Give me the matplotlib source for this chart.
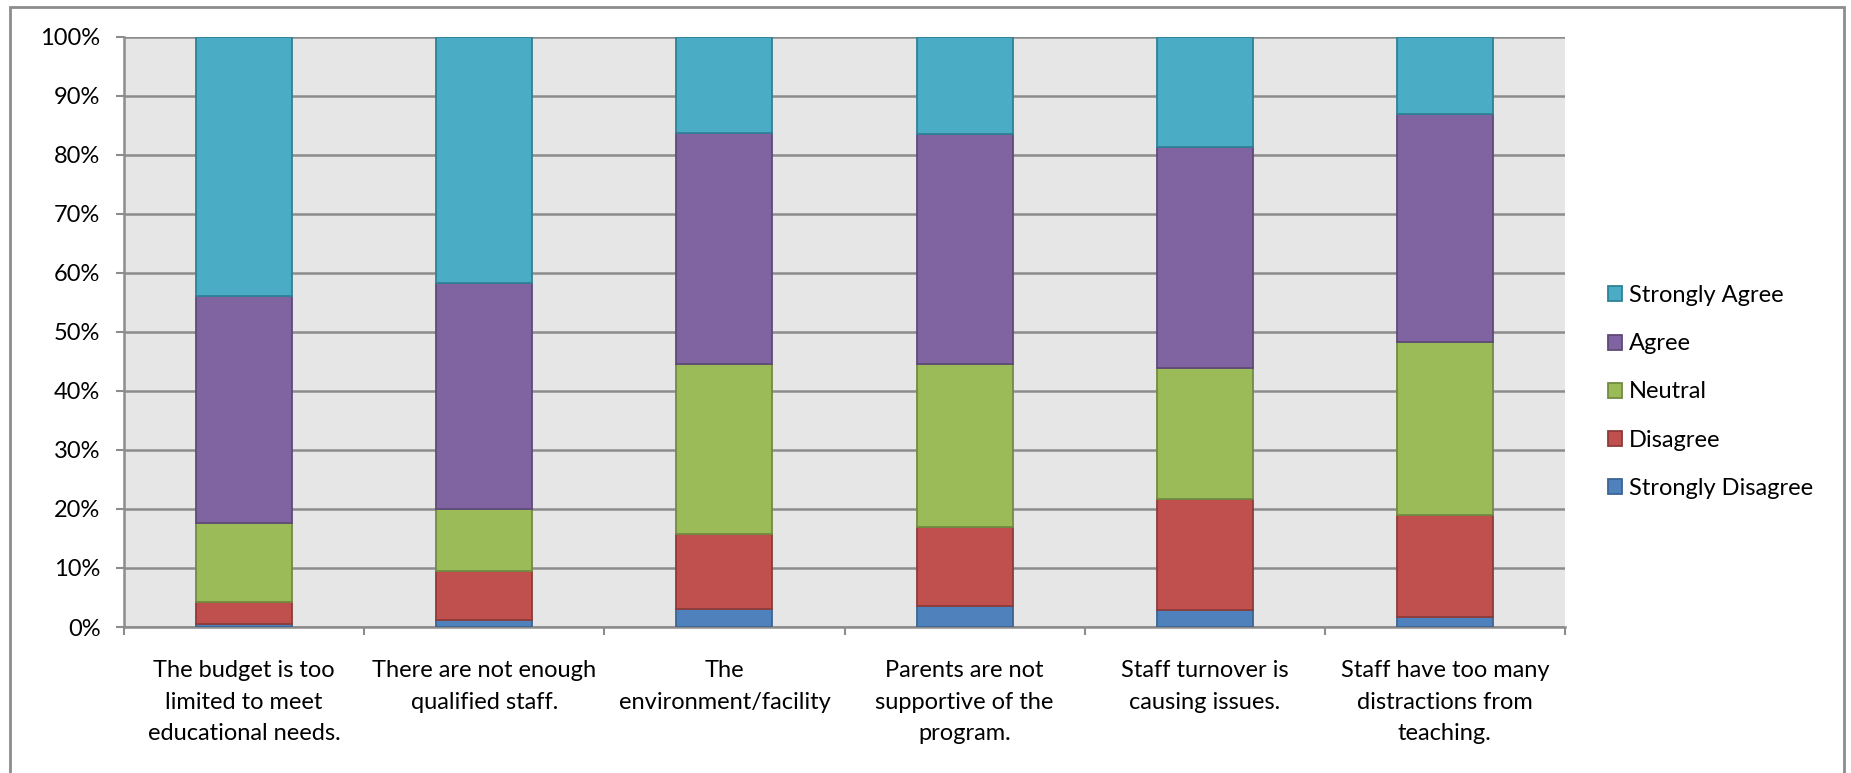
import matplotlib.pyplot as plt
import matplotlib.patches as mpatches
import numpy as np
from matplotlib.ticker import PercentFormatter

plt.rcParams['font.family'] = ['Lato', 'DejaVu Sans']

# Chart data (percent of responses)
categories = [
    "The budget is too\nlimited to meet\neducational needs.",
    "There are not enough\nqualified staff.",
    "The\nenvironment/facility",
    "Parents are not\nsupportive of the\nprogram.",
    "Staff turnover is\ncausing issues.",
    "Staff have too many\ndistractions from\nteaching.",
]
strongly_disagree = [0.5, 1.2, 3.0, 3.5, 2.8, 1.7]
disagree = [3.7, 8.3, 12.7, 13.5, 18.9, 17.3]
neutral = [13.4, 10.5, 28.9, 27.5, 22.2, 29.2]
agree = [38.5, 38.3, 39.0, 39.0, 37.4, 38.7]
strongly_agree = [43.9, 41.7, 16.4, 16.5, 18.7, 13.1]

series = [
    ("Strongly Disagree", strongly_disagree, "#4F81BD", "#3A6595"),
    ("Disagree", disagree, "#C0504D", "#8E3B39"),
    ("Neutral", neutral, "#9BBB59", "#728C40"),
    ("Agree", agree, "#8064A2", "#5E4A79"),
    ("Strongly Agree", strongly_agree, "#4BACC6", "#2F8196"),
]

W, H = 1851, 773
fig = plt.figure(figsize=(W / 100, H / 100), dpi=100)
ax = fig.add_axes([124 / W, 1 - 627 / H, (1565 - 124) / W, (627 - 36.5) / H])
ax.set_facecolor("#E6E6E6")

x = np.arange(len(categories))
bottom = np.zeros(len(categories))
handles = []
for name, vals, color, edge in series:
    b = ax.bar(x, vals, 0.40, bottom=bottom, color=color, edgecolor=edge,
               linewidth=1.3, label=name, zorder=3)
    bottom += np.array(vals)
    handles.append(b)

ax.set_xlim(-0.5, len(categories) - 0.5)
ax.set_ylim(0, 100)
ax.set_yticks(np.arange(0, 101, 10))
ax.yaxis.set_major_formatter(PercentFormatter(decimals=0))
ax.grid(axis="y", color="#8C8C8C", linewidth=1.8, zorder=1)

ax.set_xticks(x)
ax.set_xticklabels(categories, fontsize=17, linespacing=1.6)
ax.set_xticks(np.arange(-0.5, len(categories)), minor=True)
ax.tick_params(axis="x", which="major", length=0, pad=24)
ax.tick_params(axis="x", which="minor", length=6, width=1.5, color="#8C8C8C")
ax.tick_params(axis="y", length=6, width=1.5, color="#8C8C8C", labelsize=17, pad=11)

for s in ["top", "right"]:
    ax.spines[s].set_visible(False)
for s in ["left", "bottom"]:
    ax.spines[s].set_color("#8C8C8C")
    ax.spines[s].set_linewidth(1.8)

leg = fig.legend(handles[::-1], [h.get_label() for h in handles[::-1]],
                 loc="center left", bbox_to_anchor=(1608 / W, 1 - 392 / H),
                 frameon=False, fontsize=17, handlelength=0.6,
                 handleheight=0.6, handletextpad=0.3, labelspacing=1.15,
                 borderpad=0, borderaxespad=0)

# outer chart border
fig.patches.append(mpatches.Rectangle((10 / W, -0.05), (1844 - 10) / W, 1.05 - 7 / H,
                                      transform=fig.transFigure, fill=False,
                                      edgecolor="#8C8C8C", linewidth=2))

fig.savefig("out.png", dpi=100)
